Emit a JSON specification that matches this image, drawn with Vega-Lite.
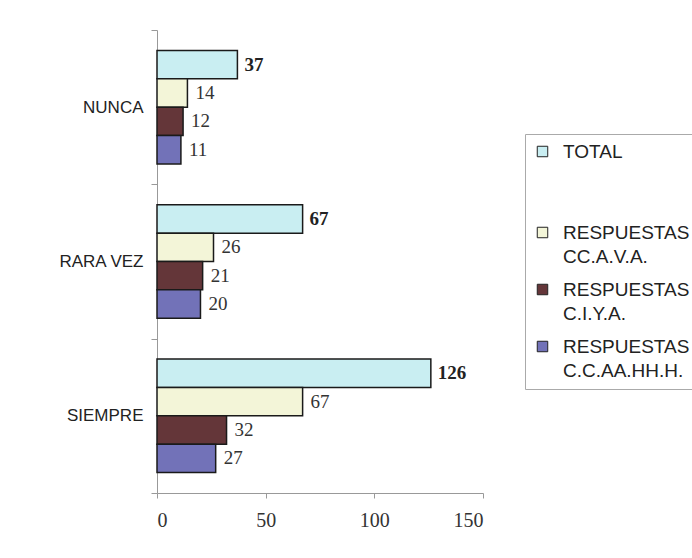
{
  "$schema": "https://vega.github.io/schema/vega-lite/v6.json",
  "width": 326,
  "height": 463,
  "autosize": {"type": "none"},
  "padding": {"left": 157, "top": 30, "right": 209, "bottom": 65},
  "background": "white",
  "config": {"view": {"stroke": null}},
  "data": {
    "values": [
      {"cat": "NUNCA", "serie": "TOTAL", "value": 37},
      {"cat": "NUNCA", "serie": "RESPUESTAS CC.A.V.A.", "value": 14},
      {"cat": "NUNCA", "serie": "RESPUESTAS C.I.Y.A.", "value": 12},
      {"cat": "NUNCA", "serie": "RESPUESTAS C.C.AA.HH.H.", "value": 11},
      {"cat": "RARA VEZ", "serie": "TOTAL", "value": 67},
      {"cat": "RARA VEZ", "serie": "RESPUESTAS CC.A.V.A.", "value": 26},
      {"cat": "RARA VEZ", "serie": "RESPUESTAS C.I.Y.A.", "value": 21},
      {"cat": "RARA VEZ", "serie": "RESPUESTAS C.C.AA.HH.H.", "value": 20},
      {"cat": "SIEMPRE", "serie": "TOTAL", "value": 126},
      {"cat": "SIEMPRE", "serie": "RESPUESTAS CC.A.V.A.", "value": 67},
      {"cat": "SIEMPRE", "serie": "RESPUESTAS C.I.Y.A.", "value": 32},
      {"cat": "SIEMPRE", "serie": "RESPUESTAS C.C.AA.HH.H.", "value": 27}
    ]
  },
  "encoding": {
    "y": {
      "field": "cat",
      "type": "nominal",
      "sort": ["NUNCA", "RARA VEZ", "SIEMPRE"],
      "scale": {"paddingInner": 0, "paddingOuter": 0},
      "axis": {
        "title": null,
        "tickBand": "extent",
        "domainColor": "#999999",
        "tickColor": "#999999",
        "tickSize": 6,
        "labelPadding": 8,
        "labelFont": "Liberation Sans",
        "labelFontSize": 17,
        "labelColor": "#222222"
      }
    },
    "yOffset": {
      "field": "serie",
      "sort": ["TOTAL", "RESPUESTAS CC.A.V.A.", "RESPUESTAS C.I.Y.A.", "RESPUESTAS C.C.AA.HH.H."],
      "scale": {"paddingInner": 0, "paddingOuter": 0.72}
    },
    "x": {
      "field": "value",
      "type": "quantitative",
      "scale": {"domain": [0, 150], "nice": false},
      "axis": {
        "title": null,
        "values": [0, 50, 100, 150],
        "grid": false,
        "domainColor": "#999999",
        "tickColor": "#999999",
        "tickSize": 5,
        "labelPadding": 12,
        "labelFont": "Liberation Serif",
        "labelFontSize": 20,
        "labelColor": "#333333"
      }
    }
  },
  "layer": [
    {
      "mark": {"type": "bar", "stroke": "#1a1a1a", "strokeWidth": 1.5},
      "encoding": {
        "color": {
          "field": "serie",
          "type": "nominal",
          "scale": {
            "domain": ["TOTAL", "RESPUESTAS CC.A.V.A.", "RESPUESTAS C.I.Y.A.", "RESPUESTAS C.C.AA.HH.H."],
            "range": ["#c9eef2", "#f3f5d8", "#643639", "#7272b8"]
          },
          "legend": {
            "title": null,
            "orient": "none",
            "legendX": 368,
            "legendY": 104,
            "symbolType": "square",
            "symbolSize": 110,
            "symbolStrokeColor": "#222222",
            "symbolStrokeWidth": 1,
            "labelFont": "Liberation Sans",
            "labelFontSize": 19,
            "labelColor": "#222222",
            "labelLimit": 250,
            "labelOffset": 11,
            "rowPadding": 13,
            "padding": 8,
            "strokeColor": "#aaaaaa",
            "fillColor": "white",
            "labelExpr": "datum.label == 'TOTAL' ? ['TOTAL', '', ''] : ['RESPUESTAS', slice(datum.label, 11)]",
            "encode": {"labels": {"update": {"lineHeight": {"value": 24}}}}
          }
        }
      }
    },
    {
      "transform": [{"filter": "datum.serie == 'TOTAL'"}],
      "mark": {"type": "text", "align": "left", "baseline": "middle", "dx": 7, "font": "Liberation Serif", "fontSize": 19, "fontWeight": "bold", "color": "#222222"},
      "encoding": {
        "text": {"field": "value", "type": "quantitative"}
      }
    },
    {
      "transform": [{"filter": "datum.serie != 'TOTAL'"}],
      "mark": {"type": "text", "align": "left", "baseline": "middle", "dx": 8, "font": "Liberation Serif", "fontSize": 19, "color": "#333333"},
      "encoding": {
        "text": {"field": "value", "type": "quantitative"}
      }
    }
  ]
}
